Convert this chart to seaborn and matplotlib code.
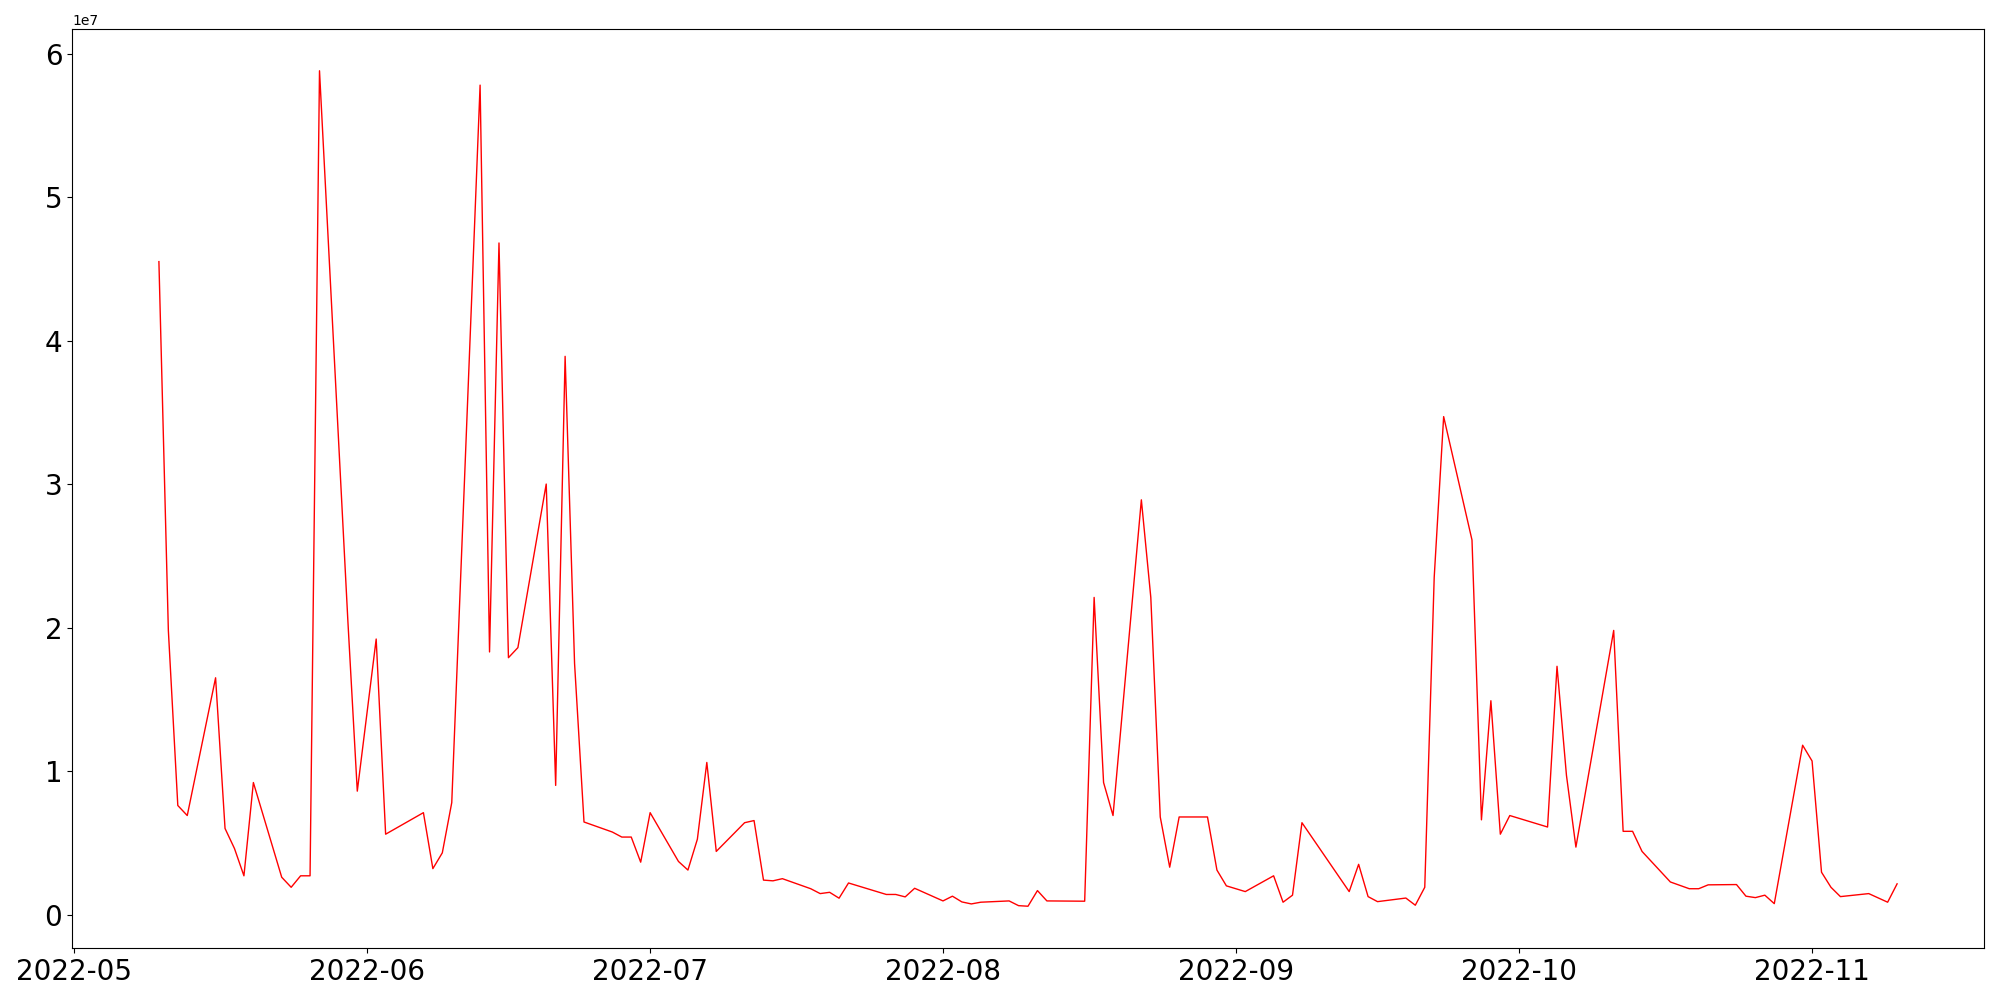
import matplotlib
matplotlib.use("Agg")
import matplotlib.pyplot as plt
import pandas as pd
import seaborn as sns

# trading days (2022) and values (units of 1e7)
dates = [
    "05-10", "05-11", "05-12", "05-13", "05-16", "05-17", "05-18", "05-19", "05-20",
    "05-23", "05-24", "05-25", "05-26", "05-27", "05-30", "05-31",
    "06-02", "06-03", "06-07", "06-08", "06-09", "06-10",
    "06-13", "06-14", "06-15", "06-16", "06-17",
    "06-20", "06-21", "06-22", "06-23", "06-24",
    "06-27", "06-28", "06-29", "06-30", "07-01",
    "07-04", "07-05", "07-06", "07-07", "07-08",
    "07-11", "07-12", "07-13", "07-14", "07-15",
    "07-18", "07-19", "07-20", "07-21", "07-22",
    "07-26", "07-27", "07-28", "07-29",
    "08-01", "08-02", "08-03", "08-04", "08-05",
    "08-08", "08-09", "08-10", "08-11", "08-12",
    "08-16", "08-17", "08-18", "08-19",
    "08-22", "08-23", "08-24", "08-25", "08-26",
    "08-29", "08-30", "08-31", "09-02",
    "09-05", "09-06", "09-07", "09-08",
    "09-13", "09-14", "09-15", "09-16",
    "09-19", "09-20", "09-21", "09-22", "09-23",
    "09-26", "09-27", "09-28", "09-29", "09-30",
    "10-04", "10-05", "10-06", "10-07",
    "10-11", "10-12", "10-13", "10-14",
    "10-17", "10-19", "10-20", "10-21",
    "10-24", "10-25", "10-26", "10-27", "10-28",
    "10-31", "11-01", "11-02", "11-03", "11-04",
    "11-07", "11-09", "11-10",
]
values = [
    4.55, 1.98, 0.76, 0.69, 1.65, 0.60, 0.46, 0.27, 0.92,
    0.26, 0.19, 0.27, 0.27, 5.88, 2.05, 0.86,
    1.92, 0.56, 0.71, 0.32, 0.43, 0.78,
    5.78, 1.83, 4.68, 1.79, 1.86,
    3.00, 0.90, 3.89, 1.75, 0.645,
    0.575, 0.54, 0.54, 0.365, 0.71,
    0.37, 0.31, 0.525, 1.06, 0.44,
    0.64, 0.655, 0.24, 0.235, 0.25,
    0.18, 0.146, 0.155, 0.114, 0.22,
    0.14, 0.14, 0.123, 0.183,
    0.095, 0.128, 0.088, 0.074, 0.086,
    0.095, 0.062, 0.058, 0.167, 0.095,
    0.093, 2.21, 0.92, 0.69,
    2.89, 2.21, 0.68, 0.33, 0.68,
    0.68, 0.31, 0.20, 0.16,
    0.27, 0.086, 0.135, 0.64,
    0.16, 0.35, 0.125, 0.09,
    0.115, 0.065, 0.19, 2.35, 3.47,
    2.61, 0.66, 1.49, 0.56, 0.69,
    0.61, 1.73, 0.97, 0.47,
    1.98, 0.58, 0.58, 0.44,
    0.227, 0.18, 0.18, 0.207,
    0.209, 0.128, 0.118, 0.135, 0.076,
    1.18, 1.07, 0.295, 0.19, 0.125,
    0.146, 0.086, 0.214,
]

df = pd.DataFrame({
    "date": pd.to_datetime(["2022-" + d for d in dates]),
    "value": [v * 1e7 for v in values],
})

fig, ax = plt.subplots(figsize=(20, 10), dpi=100)
sns.lineplot(data=df, x="date", y="value", color="red", linewidth=1.0, ax=ax)
ax.set_xlabel("")
ax.set_ylabel("")
ax.tick_params(axis="both", labelsize=20)
fig.subplots_adjust(left=0.036, right=0.992, bottom=0.052, top=0.971)
fig.savefig("out.png", dpi=100)
plt.close(fig)
